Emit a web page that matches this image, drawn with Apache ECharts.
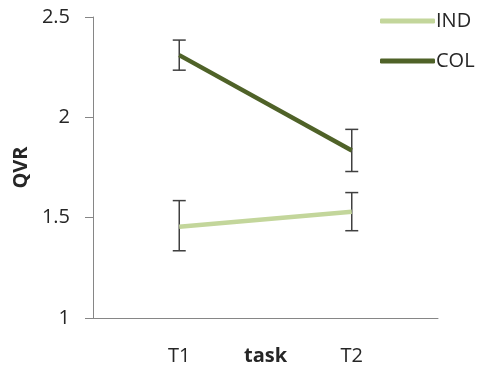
<!DOCTYPE html>
<html><head><meta charset="utf-8">
<script src="https://cdn.jsdelivr.net/npm/echarts@6/dist/echarts.min.js"></script>
<style>html,body{margin:0;padding:0;background:#fff}#c{width:479px;height:373px}</style>
</head><body><div id="c"></div>
<script>
var categories = ['T1', 'T2'];
var indValues = [1.455, 1.53];
var colValues = [2.31, 1.835];
var indLow = [1.335, 1.435];
var indHigh = [1.585, 1.625];
var colLow = [2.235, 1.73];
var colHigh = [2.385, 1.94];
var yTicks = [1, 1.5, 2, 2.5];

var FONT = '"Open Sans", "Liberation Sans", sans-serif';
var chart = echarts.init(document.getElementById('c'));

function errData(low, high) {
  return categories.map(function (c, i) { return [i, low[i], high[i]]; });
}
function renderErr(params, api) {
  var x = api.value(0);
  var lo = api.coord([x, api.value(1)]);
  var hi = api.coord([x, api.value(2)]);
  var hw = 6.5;
  var st = { stroke: '#404040', lineWidth: 1.5 };
  return {
    type: 'group',
    children: [
      { type: 'line', shape: { x1: lo[0], y1: lo[1], x2: hi[0], y2: hi[1] }, style: st },
      { type: 'line', shape: { x1: lo[0] - hw, y1: lo[1], x2: lo[0] + hw, y2: lo[1] }, style: st },
      { type: 'line', shape: { x1: hi[0] - hw, y1: hi[1], x2: hi[0] + hw, y2: hi[1] }, style: st }
    ]
  };
}

chart.setOption({
  animation: false,
  grid: { left: 93, right: 41, top: 17, bottom: 55, containLabel: false, outerBoundsMode: 'none' },
  legend: {
    orient: 'vertical', left: 375, top: 6,
    icon: 'roundRect',
    itemWidth: 55, itemHeight: 5, itemGap: 20,
    textStyle: { fontFamily: FONT, fontSize: 20, color: '#262626', padding: [0, 0, 0, -4] },
    data: ['IND', 'COL']
  },
  xAxis: {
    type: 'category', data: categories,
    name: 'task', nameLocation: 'middle', nameGap: 28, nameMoveOverlap: false,
    nameTextStyle: { fontFamily: FONT, fontSize: 20, fontWeight: 'bold', color: '#262626' },
    axisLine: { lineStyle: { color: '#868686', width: 1 } },
    axisTick: { length: 8, lineStyle: { color: '#868686' } },
    axisLabel: { fontFamily: FONT, fontSize: 20, color: '#262626', margin: 28 }
  },
  yAxis: {
    type: 'value', min: 1, max: 2.5, interval: 0.5,
    name: 'QVR', nameLocation: 'middle', nameGap: 62, nameMoveOverlap: false,
    nameTextStyle: { fontFamily: FONT, fontSize: 20, fontWeight: 'bold', color: '#262626' },
    axisLine: { show: true, lineStyle: { color: '#868686', width: 1 } },
    axisTick: { show: true, length: 8, lineStyle: { color: '#868686' } },
    splitLine: { show: false },
    axisLabel: { fontFamily: FONT, fontSize: 20, color: '#262626', margin: 23,
      formatter: function (v) { return yTicks.indexOf(v) >= 0 ? String(v) : ''; } }
  },
  series: [
    { name: 'IND', type: 'line', data: indValues, symbol: 'none',
      lineStyle: { color: '#c3d69b', width: 4.5 }, itemStyle: { color: '#c3d69b' }, z: 3 },
    { name: 'COL', type: 'line', data: colValues, symbol: 'none',
      lineStyle: { color: '#4f6228', width: 4.5 }, itemStyle: { color: '#4f6228' }, z: 3 },
    { type: 'custom', data: errData(indLow, indHigh), renderItem: renderErr, z: 2 },
    { type: 'custom', data: errData(colLow, colHigh), renderItem: renderErr, z: 2 }
  ]
});
</script></body></html>
